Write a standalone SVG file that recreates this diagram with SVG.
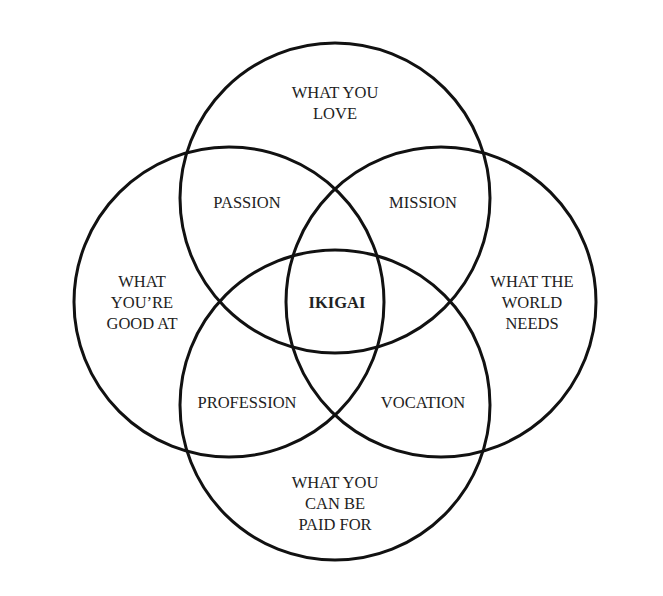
<svg xmlns="http://www.w3.org/2000/svg" width="663" height="596" viewBox="0 0 663 596">
<style>
.c{fill:none;stroke:#111;stroke-width:3}
text{font-family:"Liberation Serif","DejaVu Serif",serif;font-size:16.5px;fill:#222;text-anchor:middle}
.b{font-weight:bold}
</style>
<rect width="663" height="596" fill="#fff"/>
<g id="love"><circle class="c" cx="335" cy="198" r="155"/><text x="335" y="98">WHAT YOU</text><text x="335" y="119">LOVE</text></g>
<g id="good"><circle class="c" cx="229" cy="302" r="155"/><text x="142" y="287">WHAT</text><text x="142" y="308">YOU’RE</text><text x="142" y="329">GOOD AT</text></g>
<g id="needs"><circle class="c" cx="441" cy="302" r="155"/><text x="532" y="287">WHAT THE</text><text x="532" y="308">WORLD</text><text x="532" y="329">NEEDS</text></g>
<g id="paid"><circle class="c" cx="335" cy="405" r="155"/><text x="335" y="488">WHAT YOU</text><text x="335" y="509">CAN BE</text><text x="335" y="530">PAID FOR</text></g>
<g id="passion"><text x="247" y="208">PASSION</text></g>
<g id="mission"><text x="423" y="208">MISSION</text></g>
<g id="ikigai"><text class="b" x="337" y="308">IKIGAI</text></g>
<g id="profession"><text x="247" y="408">PROFESSION</text></g>
<g id="vocation"><text x="423" y="408">VOCATION</text></g>
<g id="connectors"></g>
</svg>
